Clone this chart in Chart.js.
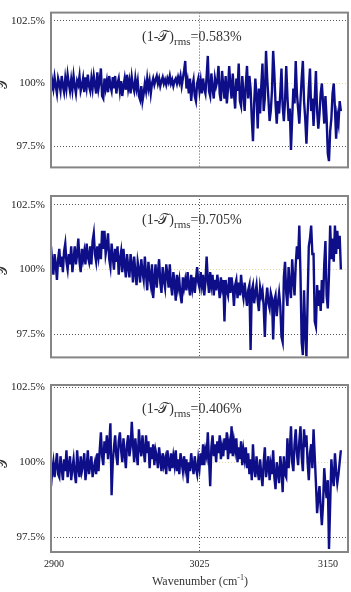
<!DOCTYPE html>
<html><head><meta charset="utf-8">
<script src="https://cdn.jsdelivr.net/npm/chart.js@4/dist/chart.umd.min.js"></script>
<style>
html,body{margin:0;padding:0;background:#fff;width:351px;height:592px;overflow:hidden}
.p{position:absolute;left:0;width:351px}
</style></head><body>
<div class="p" style="top:0;height:180px"><canvas id="c1"></canvas></div>
<div class="p" style="top:180px;height:190px"><canvas id="c2"></canvas></div>
<div class="p" style="top:370px;height:222px"><canvas id="c3"></canvas></div>
<script>
const wavenumbers = [
2900,2901,2902,2903,2904,2905,2906,2907,2908,2909,
2910,2911,2912,2913,2914,2915,2916,2917,2918,2919,
2920,2921,2922,2923,2924,2925,2926,2927,2928,2929,
2930,2931,2932,2933,2934,2935,2936,2937,2938,2939,
2940,2941,2942,2943,2944,2945,2946,2947,2948,2949,
2950,2951,2952,2953,2954,2955,2956,2957,2958,2959,
2960,2961,2962,2963,2964,2965,2966,2967,2968,2969,
2970,2971,2972,2973,2974,2975,2976,2977,2978,2979,
2980,2981,2982,2983,2984,2985,2986,2987,2988,2989,
2990,2991,2992,2993,2994,2995,2996,2997,2998,2999,
3000,3001,3002,3003,3004,3005,3006,3007,3008,3009,
3010,3011,3012,3013,3014,3015,3016,3017,3018,3019,
3020,3021,3022,3023,3024,3025,3026,3027,3028,3029,
3030,3031,3032,3033,3034,3035,3036,3037,3038,3039,
3040,3041,3042,3043,3044,3045,3046,3047,3048,3049,
3050,3051,3052,3053,3054,3055,3056,3057,3058,3059,
3060,3061,3062,3063,3064,3065,3066,3067,3068,3069,
3070,3071,3072,3073,3074,3075,3076,3077,3078,3079,
3080,3081,3082,3083,3084,3085,3086,3087,3088,3089,
3090,3091,3092,3093,3094,3095,3096,3097,3098,3099,
3100,3101,3102,3103,3104,3105,3106,3107,3108,3109,
3110,3111,3112,3113,3114,3115,3116,3117,3118,3119,
3120,3121,3122,3123,3124,3125,3126,3127,3128,3129,
3130,3131,3132,3133,3134,3135,3136,3137,3138,3139,
3140,3141,3142,3143,3144];

const panel1 = [
99.7,100.1,99.8,100.25,99.9,99.6,100.2,100.0,99.7,100.3,
99.9,99.65,100.2,99.8,100.35,100.0,99.7,100.15,99.75,100.3,
99.9,99.6,100.1,99.95,100.3,99.7,99.9,100.2,99.65,100.25,
99.85,100.35,99.9,99.7,100.2,99.8,100.3,99.95,99.6,100.45,
99.8,100.1,100.6,99.5,99.4,100.2,99.8,100.1,99.65,100.3,
99.9,99.7,100.25,99.8,100.3,99.6,100.0,100.2,99.7,100.1,
99.5,99.9,100.2,99.75,100.35,99.8,100.1,99.6,100.25,99.9,
99.7,100.2,99.8,100.1,99.5,99.35,99.9,99.3,99.6,100.0,
99.7,100.2,99.8,100.1,99.6,100.0,
100.2,99.95,100.15,100.3,100.0,100.2,99.9,100.1,100.25,100.0,
100.15,99.95,100.2,100.05,100.3,100.0,100.15,99.9,100.1,100.2,
100.0,100.25,100.05,100.3,99.9,100.2,
100.5,100.9,99.8,100.1,99.6,100.2,99.3,99.9,100.15,99.5,
99.3,100.0,100.2,99.7,100.1,99.6,100.2,99.8,99.6,
100.3,101.1,99.7,99.5,100.4,99.8,99.4,100.2,99.9,100.1,
100.7,99.6,99.3,100.5,99.9,99.4,100.3,99.2,99.8,100.7,
99.9,99.4,100.4,99.6,99.0,100.2,99.7,100.8,99.3,99.1,
100.3,99.6,98.9,100.0,100.7,
99.4,100.3,99.8,98.6,97.7,99.2,100.2,99.5,98.2,99.8,
98.8,99.9,100.8,98.9,99.4,101.3,100.2,99.4,98.5,98.9,
99.7,101.3,100.4,99.2,98.4,99.3,98.8,99.6,100.6,99.1,
98.5,99.3,100.7,99.5,98.5,99.0,97.35,98.6,99.8,99.2,
100.9,99.6,99.0,98.4,99.3,100.2,100.9,99.3,98.6,97.6,
98.8,99.8,100.6,98.9,99.4,98.3,99.4,100.5,98.9,98.2,
98.8,99.6,100.0,99.2,98.4,99.5,98.6,97.2,96.9,98.1,
98.6,99.6,100.0,99.0,97.8,98.7,98.4,99.3,98.9];

const panel2 = [
100.9,100.3,99.8,100.6,100.2,99.6,100.4,100.8,100.1,100.5,
99.9,100.7,101.0,100.3,100.0,100.6,100.2,100.9,99.9,100.4,
100.9,100.2,100.6,101.2,100.3,99.9,100.8,100.4,100.7,100.2,
101.0,100.5,100.3,100.9,100.2,101.1,101.4,100.6,100.3,100.9,
100.5,101.0,100.4,101.5,100.8,101.5,
100.6,100.9,101.4,100.4,100.1,101.0,100.5,100.0,100.8,100.3,
100.9,99.8,100.4,100.7,99.9,100.8,100.2,99.7,100.6,100.1,
99.7,100.6,100.2,99.5,100.5,99.9,99.4,100.3,100.0,99.5,
100.4,99.9,99.6,100.5,99.8,99.2,100.3,99.7,99.4,100.2,
98.9,99.6,100.2,99.3,99.9,
100.4,99.5,99.1,100.1,99.6,99.3,100.2,99.8,99.3,100.2,
99.4,99.0,99.9,99.5,98.8,99.8,99.3,99.6,99.0,98.7,
99.7,99.3,99.6,99.2,99.9,99.4,99.0,99.8,99.3,99.7,
99.1,99.6,100.1,99.5,99.3,99.9,99.4,99.8,99.0,99.5,
100.5,99.6,99.1,99.9,99.4,99.8,99.0,99.6,99.2,99.8,
99.4,98.9,99.7,99.3,99.6,98.0,99.6,99.2,99.0,99.7,
99.1,99.7,99.3,98.6,99.4,99.6,98.9,99.5,99.0,99.8,
99.2,98.9,99.5,99.0,98.6,99.2,99.4,96.9,99.2,99.4,
98.7,99.1,99.4,98.8,98.4,99.3,99.0,99.2,98.6,97.4,
98.8,99.3,98.7,98.5,99.1,98.9,97.3,98.8,99.0,98.2,
98.7,99.1,98.6,97.4,97.2,99.7,100.3,99.1,98.6,100.1,
99.3,98.9,100.4,99.6,99.0,100.2,100.9,100.4,101.7,99.8,
97.2,96.7,99.2,97.6,96.65,98.8,100.9,101.2,101.7,100.6,
100.6,98.0,97.8,99.4,98.6,99.2,98.4,99.6,98.7,100.2,
101.1,99.0,98.5,99.8,101.7,100.4,101.2,100.3,101.7,100.6,
101.5,100.8,101.3,100.0];

const panel3 = [
99.2,99.7,100.0,99.5,99.9,100.3,99.6,99.5,100.2,99.8,
99.4,100.1,99.7,100.4,99.5,99.9,100.2,99.4,99.8,100.1,
99.6,99.3,100.4,99.8,99.5,100.2,99.7,99.9,100.3,99.4,
99.8,100.4,99.6,99.9,100.2,99.5,99.8,100.0,99.6,100.3,
99.7,100.4,101.0,100.2,99.9,100.7,100.3,100.9,100.1,100.6,
101.3,98.9,100.0,100.5,100.9,100.2,99.9,100.7,101.0,100.4,
100.0,100.8,100.3,99.8,100.6,100.9,100.2,100.5,101.35,100.6,
100.0,100.8,100.3,99.9,101.1,100.5,100.2,100.9,100.4,100.0,
100.9,100.3,100.7,99.8,100.5,100.1,100.6,99.9,100.4,100.2,
99.8,100.5,100.1,
99.7,100.3,99.9,100.1,99.6,100.4,100.0,99.7,100.3,99.8,
100.2,99.9,100.4,99.7,100.1,99.6,100.3,100.0,99.7,100.2,
99.8,100.1,99.3,100.0,99.7,100.3,99.9,99.6,100.2,99.8,
99.6,100.1,99.8,100.3,99.9,
100.6,99.9,100.4,100.2,101.0,100.1,99.2,100.5,100.9,100.2,
100.6,100.0,100.7,100.3,100.9,100.1,100.5,100.2,100.8,100.4,
101.0,100.1,100.6,100.3,101.2,100.2,100.7,100.4,100.8,100.0,
100.5,100.1,100.7,99.9,100.4,100.1,100.5,99.8,
100.3,99.6,100.1,99.4,100.6,99.8,99.5,100.2,99.7,99.4,
100.1,99.6,99.2,100.0,100.5,99.5,99.8,100.2,99.4,99.9,
99.6,100.4,99.5,99.1,100.0,99.7,99.3,100.2,99.8,99.0,
100.2,99.6,99.5,
100.8,99.8,100.4,101.2,100.0,99.7,100.6,101.1,100.3,99.9,
100.7,101.2,100.2,99.7,101.1,100.5,100.9,100.0,99.4,100.3,
100.6,99.8,101.1,
100.2,99.3,98.3,98.8,99.2,98.5,97.9,98.6,99.8,99.2,
98.8,99.4,97.1,98.6,100.1,99.5,99.2,100.3,99.7,99.3,
99.6,100.0,100.4];

const yTicks = [97.5, 100, 102.5];
const xTicks = [2900, 3025, 3150];
const rmsLabels = ['0.583%', '0.705%', '0.406%'];
const yRanges = [[96.65, 102.83], [96.61, 102.84], [97.0, 102.58]];
const xTitle = 'Wavenumber (cm';
const xTitleSup = '-1';
const scriptT = '\u{1D4AF}';

const SERIF = '"Liberation Serif", "Times New Roman", serif';

function drawParts(ctx, parts, x, y, align) {
  let w = 0;
  parts.forEach(p => { ctx.font = p.f; w += ctx.measureText(p.t).width; });
  let cx = align === 'center' ? x - w / 2 : x;
  ctx.textAlign = 'left';
  ctx.textBaseline = 'alphabetic';
  parts.forEach(p => {
    ctx.font = p.f;
    ctx.fillText(p.t, cx, y + (p.dy || 0));
    cx += ctx.measureText(p.t).width;
  });
}

const deco = {
  id: 'deco',
  beforeDraw(chart) {
    const xs = chart.scales.x;
    if (xs.options.ticks.display) {
      const items = xs.getLabelItems();
      items.forEach(it => {
        if (it.label === '3150') it.options.translation[0] -= 20;
        if (it.label === '2900') it.options.translation[0] += 3;
      });
    }
  },
  afterDraw(chart, args, o) {
    const ctx = chart.ctx, a = chart.chartArea;
    ctx.save();
    ctx.strokeStyle = '#858585';
    ctx.lineWidth = 2;
    ctx.strokeRect(a.left, a.top, a.right - a.left, a.bottom - a.top);
    ctx.fillStyle = '#333';
    drawParts(ctx, [
      {t: '(1-', f: '14px ' + SERIF},
      {t: scriptT, f: '14px "DejaVu Serif", ' + SERIF},
      {t: ')', f: '14px ' + SERIF},
      {t: 'rms', f: '11px ' + SERIF, dy: 4},
      {t: '=' + o.rms, f: '14px ' + SERIF}
    ], 142, a.top + 28, 'left');
    const yc = chart.scales.y.getPixelForValue(100);
    ctx.save();
    ctx.translate(3, yc);
    ctx.rotate(-Math.PI / 2);
    ctx.font = '14px "DejaVu Serif", ' + SERIF;
    ctx.textAlign = 'center';
    ctx.textBaseline = 'middle';
    ctx.fillText(scriptT, 0, 0);
    ctx.restore();
    if (o.xTitle) {
      drawParts(ctx, [
        {t: xTitle, f: '12px ' + SERIF},
        {t: xTitleSup, f: '8px ' + SERIF, dy: -5},
        {t: ')', f: '12px ' + SERIF}
      ], 200, a.bottom + 33, 'center');
    }
    ctx.restore();
  }
};

const panels = [
  {id: 'c1', values: panel1, rms: rmsLabels[0], range: yRanges[0], padTop: 8, xHeight: 4, xLabels: false},
  {id: 'c2', values: panel2, rms: rmsLabels[1], range: yRanges[1], padTop: 16, xHeight: 6, xLabels: false},
  {id: 'c3', values: panel3, rms: rmsLabels[2], range: yRanges[2], padTop: 15, xHeight: 40, xLabels: true}
];

panels.forEach(p => {
  new Chart(document.getElementById(p.id), {
    type: 'line',
    data: {
      datasets: [{
        data: wavenumbers.map((w, i) => ({x: w, y: p.values[i]})),
        borderColor: '#0e0e88',
        borderWidth: 2.4,
        pointRadius: 0,
        tension: 0,
        fill: false
      }]
    },
    options: {
      responsive: true,
      maintainAspectRatio: false,
      animation: false,
      layout: {padding: {top: p.padTop, right: 3, left: 0, bottom: 0}},
      plugins: {
        legend: {display: false},
        tooltip: {enabled: false},
        deco: {rms: p.rms, xTitle: p.xLabels}
      },
      scales: {
        x: {
          type: 'linear', min: 2900, max: 3150,
          afterBuildTicks: s => { s.ticks = xTicks.map(v => ({value: v})); },
          afterFit: s => { s.height = p.xHeight; s.paddingLeft = 0; s.paddingRight = 0; },
          grid: {drawTicks: false, lineWidth: 1,
                 color: c => (c.tick && c.tick.value === 3025) ? '#555' : 'rgba(0,0,0,0)'},
          border: {display: false, dash: [1, 2]},
          ticks: {display: p.xLabels, padding: 6, color: '#222', maxRotation: 0, autoSkip: false,
                  font: {family: SERIF, size: 10}, callback: v => String(v)}
        },
        y: {
          min: p.range[0], max: p.range[1],
          afterBuildTicks: s => { s.ticks = yTicks.map(v => ({value: v})); },
          afterFit: s => { s.width = 51; },
          grid: {drawTicks: false, lineWidth: 1,
                 color: c => (c.tick && c.tick.value === 100) ? '#e2dca0' : '#555'},
          border: {display: false, dash: [1, 2]},
          ticks: {padding: 6, color: '#222', font: {family: SERIF, size: 11}, callback: v => v + '%'}
        }
      }
    },
    plugins: [deco]
  });
});
</script>
</body></html>
